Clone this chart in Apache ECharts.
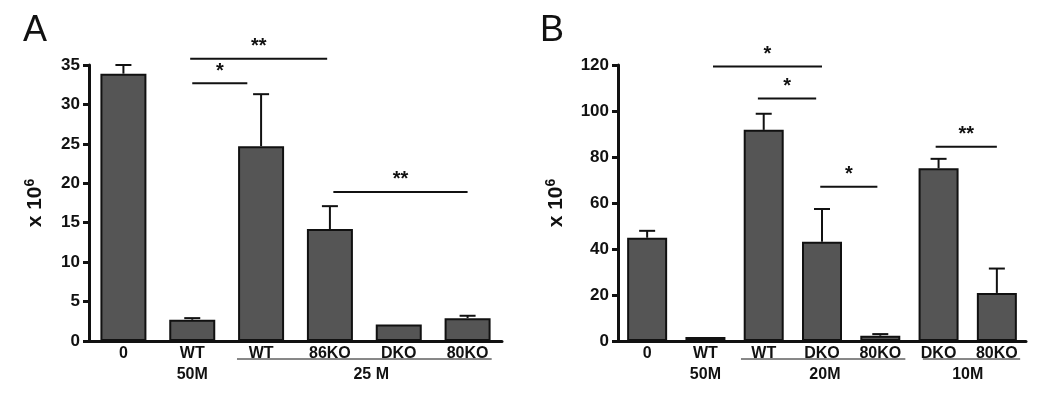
<!DOCTYPE html>
<html>
<head>
<meta charset="utf-8">
<script src="https://cdn.jsdelivr.net/npm/echarts@6/dist/echarts.min.js"></script>
<style>
  html, body { margin: 0; padding: 0; background: #fff; }
  #chart { width: 1050px; height: 401px; }
</style>
</head>
<body>
<div id="chart"></div>
<script>
// panel A
const catsA = ["0", "WT", "WT", "86KO", "DKO", "80KO"];
const meanA = [33.9, 2.7, 24.7, 14.2, 2.1, 2.9];
const upperA = [35.0, 2.9, 31.3, 17.1, 2.1, 3.2];
const ticksA = { min: 0, max: 35, interval: 5 };
// [from, to, y, stars]  (x in category units)
const sigA = [
  [0.97, 2.96, 35.8, "**"],
  [1.0, 1.8, 32.7, "*"],
  [3.05, 5.0, 18.9, "**"]
];
// [from, to, text centre, text, underline?]
const groupsA = [
  [1, 1, 1, "50M", false],
  [1.65, 5.35, 3.6, "25 M", true]
];

// panel B
const catsB = ["0", "WT", "WT", "DKO", "80KO", "DKO", "80KO"];
const meanB = [44.9, 1.7, 91.8, 43.1, 2.3, 75.1, 20.9];
const upperB = [47.9, 2.0, 98.8, 57.4, 3.0, 79.2, 31.5];
const ticksB = { min: 0, max: 120, interval: 20 };
const sigB = [
  [1.13, 3.0, 119.3, "*"],
  [1.9, 2.9, 105.4, "*"],
  [2.97, 3.95, 67.1, "*"],
  [4.95, 6.0, 84.5, "**"]
];
const groupsB = [
  [1, 1, 1, "50M", false],
  [1.61, 4.43, 3.05, "20M", true],
  [4.73, 6.4, 5.5, "10M", true]
];

const FONT = "Liberation Sans, Arial, sans-serif";
const BAR = "#555555";
const INK = "#111111";

function yAxisCfg(grid, t, gap) {
  return {
    gridIndex: grid, type: "value", min: t.min, max: t.max, interval: t.interval,
    name: "{a|x 10}{b|6}", nameLocation: "middle", nameGap: gap, nameRotate: 90,
    nameTextStyle: {
      rich: {
        a: { fontFamily: FONT, fontWeight: "bold", fontSize: 21, color: INK },
        b: { fontFamily: FONT, fontWeight: "bold", fontSize: 14, color: INK, verticalAlign: "top", padding: [0, 0, 10, 0] }
      }
    },
    axisLine: { show: true, onZero: false, lineStyle: { color: INK, width: 3 } },
    axisTick: { show: true, length: 6, lineStyle: { color: INK, width: 3 } },
    axisLabel: { color: INK, fontFamily: FONT, fontWeight: "bold", fontSize: 17, margin: 9 },
    splitLine: { show: false }
  };
}

function xCatCfg(grid, cats) {
  return {
    gridIndex: grid, type: "category", data: cats,
    axisLine: { onZero: false, lineStyle: { color: INK, width: 3 } },
    axisTick: { show: false },
    axisLabel: { color: INK, fontFamily: FONT, fontWeight: "bold", fontSize: 16, margin: 5 }
  };
}

function xValCfg(grid, n) {
  return { gridIndex: grid, type: "value", min: -0.5, max: n - 0.5, show: false };
}

function errSeries(xi, yi, mean, upper) {
  return {
    type: "custom", xAxisIndex: xi, yAxisIndex: yi, z: 1,
    data: mean.map((m, i) => [i, m, upper[i]]),
    renderItem: function (params, api) {
      const bot = api.coord([api.value(0), api.value(1)]);
      const top = api.coord([api.value(0), api.value(2)]);
      if (bot[1] - top[1] < 1) return null;
      return {
        type: "group",
        children: [
          { type: "line", shape: { x1: bot[0], y1: bot[1], x2: top[0], y2: top[1] }, style: { stroke: INK, lineWidth: 2 } },
          { type: "line", shape: { x1: top[0] - 8, y1: top[1], x2: top[0] + 8, y2: top[1] }, style: { stroke: INK, lineWidth: 2 } }
        ]
      };
    }
  };
}

function sigSeries(xi, yi, sig) {
  return {
    type: "custom", xAxisIndex: xi, yAxisIndex: yi, clip: false, z: 5,
    data: sig.map(s => [s[0], s[1], s[2], s[3]]),
    renderItem: function (params, api) {
      const p1 = api.coord([api.value(0), api.value(2)]);
      const p2 = api.coord([api.value(1), api.value(2)]);
      const txt = sig[params.dataIndex][3];
      return {
        type: "group",
        children: [
          { type: "line", shape: { x1: p1[0], y1: p1[1], x2: p2[0], y2: p2[1] }, style: { stroke: INK, lineWidth: 2 } },
          { type: "text", x: (p1[0] + p2[0]) / 2, y: p1[1] - 2,
            style: { text: txt, textAlign: "center", textVerticalAlign: "bottom", fill: INK,
                     font: "bold 20px " + FONT } }
        ]
      };
    }
  };
}

function groupSeries(xi, yi, groups) {
  return {
    type: "custom", xAxisIndex: xi, yAxisIndex: yi, clip: false, z: 5,
    data: groups.map(g => [g[0], g[1], g[2]]),
    renderItem: function (params, api) {
      const g = groups[params.dataIndex];
      const p1 = api.coord([g[0], 0]);
      const p2 = api.coord([g[1], 0]);
      const pc = api.coord([g[2], 0]);
      const kids = [
        { type: "text", x: pc[0], y: p1[1] + 34,
          style: { text: g[3], textAlign: "center", textVerticalAlign: "middle", fill: INK,
                   font: "bold 16px " + FONT } }
      ];
      if (g[4]) {
        kids.push({ type: "line", shape: { x1: p1[0], y1: p1[1] + 18, x2: p2[0], y2: p2[1] + 18 },
                    style: { stroke: INK, lineWidth: 1 } });
      }
      return { type: "group", children: kids };
    }
  };
}

const chart = echarts.init(document.getElementById("chart"));
chart.setOption({
  animation: false,
  backgroundColor: "#ffffff",
  title: [
    { text: "A", left: 18, top: 8, textStyle: { fontFamily: FONT, fontWeight: "normal", fontSize: 36, color: INK } },
    { text: "B", left: 535, top: 8, textStyle: { fontFamily: FONT, fontWeight: "normal", fontSize: 36, color: INK } }
  ],
  grid: [
    { left: 89, width: 413, top: 65, bottom: 60 },
    { left: 618, width: 408, top: 65, bottom: 60 }
  ],
  xAxis: [
    xCatCfg(0, catsA), xValCfg(0, catsA.length),
    xCatCfg(1, catsB), xValCfg(1, catsB.length)
  ],
  yAxis: [yAxisCfg(0, ticksA, 42), yAxisCfg(1, ticksB, 50)],
  series: [
    { type: "bar", xAxisIndex: 0, yAxisIndex: 0, data: meanA, barWidth: 46, z: 2,
      itemStyle: { color: BAR, borderColor: INK, borderWidth: 2 } },
    errSeries(0, 0, meanA, upperA),
    sigSeries(1, 0, sigA),
    groupSeries(1, 0, groupsA),
    { type: "bar", xAxisIndex: 2, yAxisIndex: 1, data: meanB, barWidth: 40, z: 2,
      itemStyle: { color: BAR, borderColor: INK, borderWidth: 2 } },
    errSeries(2, 1, meanB, upperB),
    sigSeries(3, 1, sigB),
    groupSeries(3, 1, groupsB)
  ]
});
</script>
</body>
</html>
